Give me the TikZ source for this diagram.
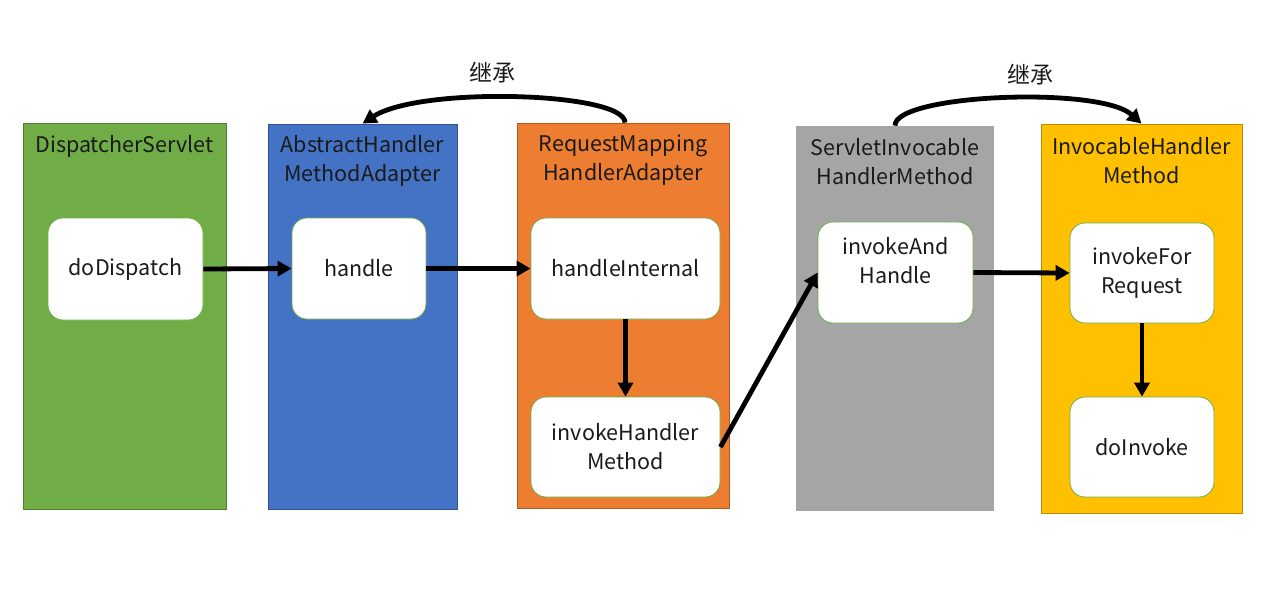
\documentclass[tikz,border=0pt]{standalone}
\usepackage{fontspec}
\setmainfont{Noto Sans CJK SC}
\usetikzlibrary{arrows.meta}
\definecolor{cgreen}{HTML}{70AD47}
\definecolor{cgreenb}{HTML}{507E32}
\definecolor{cblue}{HTML}{4472C4}
\definecolor{cblueb}{HTML}{2F528F}
\definecolor{corange}{HTML}{ED7D31}
\definecolor{coranb}{HTML}{AE5A21}
\definecolor{cgray}{HTML}{A5A5A5}
\definecolor{cyellow}{HTML}{FFC000}
\definecolor{cyelb}{HTML}{BC8C00}
\definecolor{ctxt}{HTML}{1A1A1A}
\tikzset{
  col/.style={rectangle, inner sep=0pt, line width=0.8pt},
  ttl/.style={align=center, text=ctxt, font=\fontsize{21.5}{29}\selectfont},
  lbl/.style={text=ctxt, font=\fontsize{23}{29}\selectfont},
  inner/.style={rectangle, rounded corners=15pt, fill=white, draw=cgreen, line width=0.8pt, inner sep=0pt, align=center, text=ctxt, font=\fontsize{21.5}{29}\selectfont},
  flow/.style={line width=4.8pt, -{Triangle[length=14pt,width=15pt]}},
}
\begin{document}
\begin{tikzpicture}[x=1pt,y=-1pt]
\useasboundingbox (0,0) rectangle (1261,614);
% columns
\node[col, fill=cgreen, draw=cgreenb, minimum width=203pt, minimum height=386pt] (c1) at (124.5,316) {};
\node[col, fill=cblue, draw=cblueb, minimum width=189pt, minimum height=385pt] (c2) at (362.5,316.5) {};
\node[col, fill=corange, draw=coranb, minimum width=212pt, minimum height=385pt] (c3) at (623,315.5) {};
\node[col, fill=cgray, minimum width=198pt, minimum height=385pt] (c4) at (895,318.5) {};
\node[col, fill=cyellow, draw=cyelb, minimum width=201pt, minimum height=389pt] (c5) at (1141.5,318.5) {};
% titles
\node[ttl] (t1) at (124.5,146) {DispatcherServlet};
\node[ttl] (t2) at (362.5,161) {AbstractHandler\\MethodAdapter};
\node[ttl] (t3) at (623,160.5) {RequestMapping\\HandlerAdapter};
\node[ttl] (t4) at (895,161.5) {ServletInvocable\\HandlerMethod};
\node[ttl] (t5) at (1141.5,161) {InvocableHandler\\Method};
% inner boxes
\node[inner, minimum width=155pt, minimum height=102pt] (b1) at (125.5,269) {doDispatch};
\node[inner, minimum width=134pt, minimum height=101pt] (b2) at (359,268.5) {handle};
\node[inner, minimum width=189pt, minimum height=101pt] (b3) at (625.5,268.5) {handleInternal};
\node[inner, minimum width=189pt, minimum height=100pt] (b4) at (625.5,447) {invokeHandler\\Method};
\node[inner, minimum width=155pt, minimum height=101pt] (b5) at (895.5,272.5) {};
\node[ttl] (b5t) at (895.5,261) {invokeAnd\\Handle};
\node[inner, minimum width=144pt, minimum height=100pt] (b6) at (1142,273) {invokeFor\\Request};
\node[inner, minimum width=144pt, minimum height=100pt] (b7) at (1142,447) {doInvoke};
% flow arrows
\draw[flow] (b1.east) -- (b2.west);
\draw[flow] (b2.east) -- (b3.west);
\draw[flow] (b3.south) -- (b4.north);
\draw[flow] (b4.east) -- (b5.west);
\draw[flow] (b5.east) -- (b6.west);
\draw[flow] (b6.south) -- (b7.north);
% inheritance arcs
\node[lbl] (l1) at (492,73) {继承};
\node[lbl] (l2) at (1030,75) {继承};
\draw[flow] ([xshift=2pt]c3.north) .. controls (625,92) and (420,86) .. (c2.north);
\draw[flow] (c4.north) .. controls (895,94) and (1100,86) .. (c5.north);
\end{tikzpicture}
\end{document}
